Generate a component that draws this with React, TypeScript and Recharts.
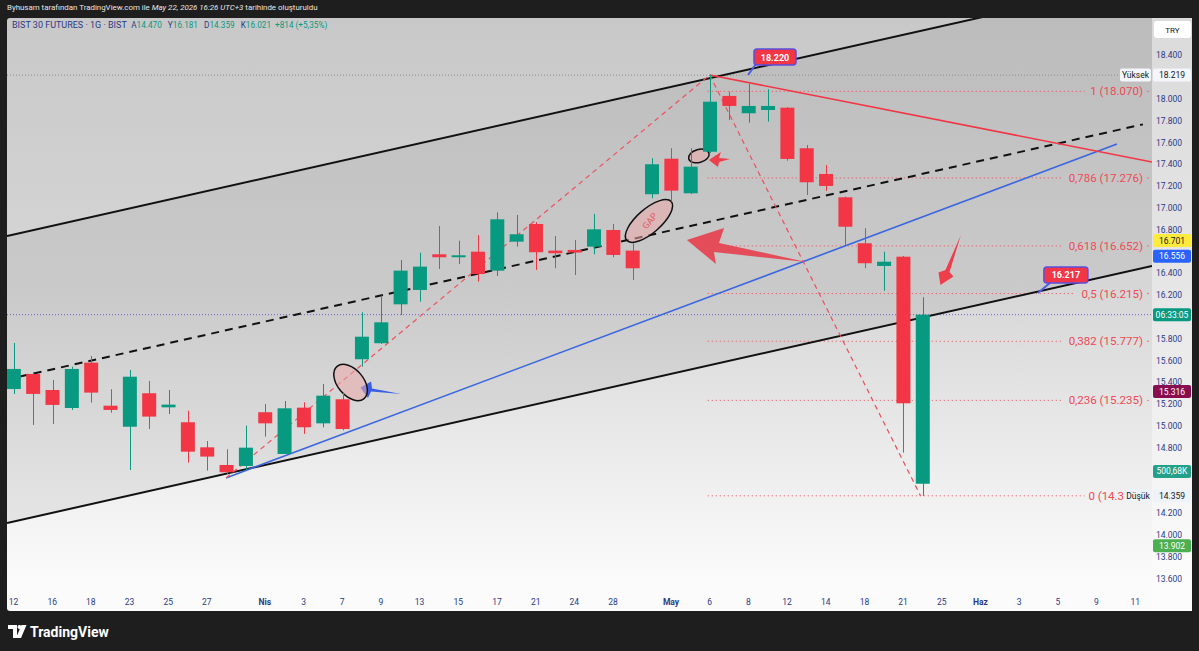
import { ComposedChart, Bar, XAxis, YAxis, ReferenceArea } from 'recharts';

// daily candles, 12 Mar -> 22 May (index = trading day)
const OPEN = [15.339, 15.477, 15.330, 15.165, 15.581, 15.186, 14.993, 15.300, 15.171, 15.034, 14.804, 14.642, 14.633, 15.126, 14.743, 15.168, 15.024, 15.245, 15.612, 15.759, 16.116, 16.248, 16.575, 16.548, 16.599, 16.425, 16.691, 16.853, 16.609, 16.615, 16.645, 16.798, 16.609, 17.126, 17.452, 17.135, 17.516, 18.028, 17.869, 17.899, 17.920, 17.548, 17.312, 17.098, 16.676, 16.468, 16.553, 14.470];
const HIGH = [15.761, 15.495, 15.422, 15.544, 15.642, 15.337, 15.514, 15.413, 15.330, 15.140, 14.862, 14.786, 15.003, 15.202, 15.229, 15.217, 15.385, 15.310, 16.043, 16.196, 16.523, 16.590, 16.835, 16.700, 16.752, 16.960, 16.936, 16.870, 16.743, 16.706, 16.945, 16.853, 16.676, 17.456, 17.548, 17.548, 18.220, 18.067, 18.138, 18.089, 17.925, 17.578, 17.394, 17.105, 16.814, 16.599, 16.560, 16.181];
const LOW = [15.294, 15.009, 15.018, 15.147, 15.214, 15.122, 14.596, 14.972, 15.110, 14.663, 14.590, 14.560, 14.596, 14.902, 14.743, 14.927, 14.988, 14.960, 15.544, 15.752, 16.018, 16.140, 16.440, 16.486, 16.324, 16.376, 16.645, 16.431, 16.447, 16.385, 16.575, 16.548, 16.339, 17.089, 17.058, 17.128, 17.505, 17.807, 17.783, 17.792, 17.434, 17.119, 17.156, 16.661, 16.447, 16.241, 14.755, 14.359];
const CLOSE = [15.523, 15.294, 15.193, 15.523, 15.306, 15.147, 15.452, 15.086, 15.196, 14.764, 14.719, 14.575, 14.801, 15.024, 15.162, 14.988, 15.278, 14.972, 15.819, 15.951, 16.425, 16.462, 16.548, 16.566, 16.394, 16.896, 16.759, 16.594, 16.585, 16.591, 16.804, 16.569, 16.447, 17.401, 17.159, 17.379, 17.975, 17.936, 17.936, 17.936, 17.450, 17.236, 17.202, 16.828, 16.493, 16.507, 15.208, 16.021];

const X_TICKS = [0, 2, 4, 6, 8, 10, 13, 15, 17, 19, 21, 23, 25, 27, 29, 31, 34, 36, 38, 40, 42, 44, 46, 48, 50, 52, 54, 56, 58];
const X_LABELS = ['12', '16', '18', '23', '25', '27', 'Nis', '3', '7', '9', '13', '15', '17', '21', '24', '28', 'May', '6', '8', '12', '14', '18', '21', '25', 'Haz', '3', '5', '9', '11'];
const MONTHS = ['Nis', 'May', 'Haz'];
const Y_TICKS = [13.6, 13.8, 14.0, 14.2, 14.8, 15.0, 15.2, 15.4, 15.6, 15.8, 16.2, 16.4, 16.8, 17.0, 17.2, 17.4, 17.6, 17.8, 18.0, 18.4];

// fib retracement 18.070 -> 14.359 (last label is hidden under the "Düşük" tag)
const FIB_NAMES = ['1', '0,786', '0,618', '0,5', '0,382', '0,236', '0'];
const FIB_PRICES = [18.070, 17.276, 16.652, 16.215, 15.777, 15.235, 14.359];
const FIB_TEXT = ['1 (18.070)', '0,786 (17.276)', '0,618 (16.652)', '0,5 (16.215)', '0,382 (15.777)', '0,236 (15.235)', '0 (14.3'];

// drawings, [index, price]
const CH_UPPER = [[-0.336, 16.743], [58.87, 19.101]];
const CH_LOWER = [[-0.336, 14.110], [58.87, 16.468]];
const CH_MID = [[0.336, 15.453], [58.4, 17.767]];
const BLUE_LINE = [[10.99, 14.523], [57.06, 17.587]];
const RED_DASH_UP = [[10.99, 14.523], [36.0, 18.22]];
const RED_DASH_DOWN = [[36.0, 18.22], [46.9, 14.36]];
const RED_LINE = [[36.0, 18.22], [58.87, 17.422]];
const BIG_ARROW = [[34.82, 16.706], [36.74, 16.817], [36.48, 16.679], [40.98, 16.505], [36.22, 16.596], [36.32, 16.486]];
const SMALL_ARROW = [[48.99, 16.752], [48.40, 16.413], [48.60, 16.372], [47.93, 16.294], [47.83, 16.408], [48.19, 16.431]];
const TINY_ARROW = [[35.96, 17.44], [36.58, 17.514], [36.48, 17.459], [37.05, 17.45], [36.48, 17.422], [36.43, 17.376]];
const BLUE_ARROW = [[17.94, 15.353], [18.49, 15.408], [18.54, 15.344], [20.04, 15.294], [18.49, 15.317], [18.33, 15.257]];

const X_MIN = -0.336, X_MAX = 58.87, Y_MIN = 13.495, Y_MAX = 18.743;
const GREEN = '#089981', RED = '#f23645', AXIS_TEXT = '#2b3a87';
const FONT = "Roboto, 'Liberation Sans', sans-serif";

const data = OPEN.map((o, i) => ({ i, o, h: HIGH[i], l: LOW[i], c: CLOSE[i] }));

function Candle(props: any) {
  const { x, y, width, height, payload } = props;
  const { o, h, l, c } = payload;
  const top = Math.min(y, y + height);
  const hh = Math.abs(height);
  const yOf = (v: number) => top + ((h - v) / (h - l || 1)) * hh;
  const col = c >= o ? GREEN : RED;
  const bt = yOf(Math.max(o, c));
  const bb = yOf(Math.min(o, c));
  const cx = Math.round(x + width / 2) + 0.5;
  return (
    <g>
      <line x1={cx} x2={cx} y1={top} y2={top + hh} stroke={col} strokeWidth={1} />
      <rect x={x} y={bt} width={width} height={Math.max(1.5, bb - bt)} fill={col} />
    </g>
  );
}

function mapper(p: any) {
  const x = p.x, y = Math.min(p.y, p.y + p.height), w = p.width, h = Math.abs(p.height);
  return {
    x, y, w, h,
    px: (i: number) => x + ((i - X_MIN) / (X_MAX - X_MIN)) * w,
    py: (v: number) => y + ((Y_MAX - v) / (Y_MAX - Y_MIN)) * h,
  };
}

function ChannelFill(props: any) {
  const m = mapper(props);
  const pts = [CH_UPPER[0], CH_UPPER[1], CH_LOWER[1], CH_LOWER[0]].map(([i, v]) => `${m.px(i)},${m.py(v)}`).join(' ');
  return (
    <g>
      <clipPath id="chfill"><rect x={m.x} y={m.y} width={m.w} height={m.h} /></clipPath>
      <polygon points={pts} fill="rgba(40,40,40,0.07)" clipPath="url(#chfill)" />
    </g>
  );
}

function Tag({ y, x, w, text, bg, fg }: any) {
  return (
    <g>
      <rect x={x} y={y - 6.5} width={w} height={13} rx={2} fill={bg} />
      <text x={x + w / 2} y={y + 3} textAnchor="middle" fontSize={8.5} fill={fg} fontFamily={FONT}>{text}</text>
    </g>
  );
}

function Overlay(props: any) {
  const m = mapper(props);
  const seg = (s: number[][], stroke: string, sw: number, dash?: string) => (
    <line x1={m.px(s[0][0])} y1={m.py(s[0][1])} x2={m.px(s[1][0])} y2={m.py(s[1][1])} stroke={stroke} strokeWidth={sw} strokeDasharray={dash} />
  );
  const poly = (s: number[][], fill: string) => (
    <polygon points={s.map(([i, v]) => `${m.px(i)},${m.py(v)}`).join(' ')} fill={fill} />
  );
  const right = m.x + m.w;
  const fibEnd = m.px(58.4);
  const axX = right + 1;
  const hiY = m.py(18.219);
  const loY = m.py(14.359);
  const c1x = m.px(37.98), c1y = m.py(18.22);
  const c2x = m.px(52.97), c2y = m.py(16.22);
  const gx = m.px(32.86), gy = m.py(16.881);
  const e1x = m.px(17.43), e1y = m.py(15.399);
  const e3x = m.px(35.44), e3y = m.py(17.477);
  return (
    <g fontFamily={FONT}>
      <clipPath id="plotclip"><rect x={m.x} y={m.y} width={m.w} height={m.h} /></clipPath>
      <g clipPath="url(#plotclip)">
        <line x1={m.x} x2={right} y1={hiY} y2={hiY} stroke="#8a8d96" strokeWidth={1} strokeDasharray="1 2" />
        <line x1={m.x} x2={right} y1={m.py(16.021)} y2={m.py(16.021)} stroke="#6a64c4" strokeWidth={1} strokeDasharray="1 2" />
        {FIB_PRICES.map((v, k) => {
          const full = `${FIB_NAMES[k]} (${v.toFixed(3)})`;
          const tx = fibEnd - full.length * 5.45;
          const last = k === FIB_PRICES.length - 1;
          return (
            <g key={k}>
              <line x1={m.px(35.9)} x2={tx - 4} y1={m.py(v)} y2={m.py(v)} stroke="#ee4a56" strokeWidth={1} strokeDasharray="1 3" />
              <text x={last ? tx : fibEnd} y={m.py(v) + 4} textAnchor={last ? 'start' : 'end'} fontSize={11.5} fill="#ee4a56">{FIB_TEXT[k]}</text>
              {!last && <circle cx={fibEnd + 5} cy={m.py(v)} r={0.7} fill="#ee4a56" />}
            </g>
          );
        })}
        {seg(CH_UPPER, '#111', 2)}
        {seg(CH_LOWER, '#111', 2)}
        {seg(CH_MID, '#111', 2, '8 6')}
        {seg(BLUE_LINE, '#3a66e0', 1.6)}
        {seg(RED_DASH_UP, '#f0505c', 1.2, '5 4')}
        {seg(RED_DASH_DOWN, '#e8505c', 1.2, '5 4')}
        {seg(RED_LINE, '#f23645', 1.6)}
        {poly(BIG_ARROW, 'rgba(232,62,78,0.9)')}
        {poly(SMALL_ARROW, 'rgba(240,54,69,0.95)')}
        {poly(TINY_ARROW, 'rgba(240,54,69,0.95)')}
        {poly(BLUE_ARROW, '#3a5fe6')}
        <ellipse cx={e1x} cy={e1y} rx={21} ry={13} transform={`rotate(50 ${e1x} ${e1y})`} fill="rgba(235,170,170,0.55)" stroke="#111" strokeWidth={1.5} />
        <ellipse cx={gx} cy={gy} rx={29.5} ry={12} transform={`rotate(-41 ${gx} ${gy})`} fill="rgba(235,170,170,0.55)" stroke="#111" strokeWidth={1.5} />
        <text x={gx + 1} y={gy + 3} textAnchor="middle" fontSize={9} fill="#e0606b" transform={`rotate(-50 ${gx + 1} ${gy})`}>GAP</text>
        <ellipse cx={e3x} cy={e3y} rx={10.5} ry={6.5} transform={`rotate(-15 ${e3x} ${e3y})`} fill="rgba(235,170,170,0.55)" stroke="#111" strokeWidth={1.5} />
        <line x1={c1x} y1={c1y} x2={c1x + 8} y2={c1y - 11} stroke="#4b5ee0" strokeWidth={2} />
        <rect x={c1x + 6} y={c1y - 26} width={42} height={16} rx={3} fill="#f23645" stroke="#5a4fe0" strokeWidth={1.5} />
        <text x={c1x + 27} y={c1y - 14.5} textAnchor="middle" fontSize={9} fontWeight={700} fill="#fff">18.220</text>
        <line x1={c2x} y1={c2y} x2={c2x + 12} y2={c2y - 10} stroke="#4b5ee0" strokeWidth={2} />
        <rect x={c2x + 6} y={c2y - 26} width={44} height={16} rx={3} fill="#f23645" stroke="#5a4fe0" strokeWidth={1.5} />
        <text x={c2x + 28} y={c2y - 14.5} textAnchor="middle" fontSize={9} fontWeight={700} fill="#fff">16.217</text>
      </g>
      <rect x={axX + 1} y={m.y + 3} width={37} height={17} rx={3} fill="#fff" />
      <text x={axX + 19.5} y={m.y + 14.5} textAnchor="middle" fontSize={8} fill="#131722">TRY</text>
      <Tag x={right - 32} y={hiY} w={31} text="Yüksek" bg="#f4f6fb" fg="#131722" />
      <Tag x={axX} y={hiY} w={38} text="18.219" bg="#f4f6fb" fg="#131722" />
      <Tag x={axX} y={m.py(16.701)} w={38} text="16.701" bg="#ffeb3b" fg="#131722" />
      <Tag x={axX} y={m.py(16.556)} w={38} text="16.556" bg="#2962ff" fg="#fff" />
      <Tag x={axX} y={m.py(16.021)} w={38} text="06:33:05" bg="#089981" fg="#fff" />
      <Tag x={axX} y={m.py(15.316)} w={38} text="15.316" bg="#880e4f" fg="#fff" />
      <Tag x={axX} y={m.py(14.583)} w={38} text="500,68K" bg="#22a08a" fg="#fff" />
      <Tag x={right - 28} y={loY} w={28} text="Düşük" bg="#eef2f9" fg="#131722" />
      <Tag x={axX} y={loY} w={38} text="14.359" bg="#eef2f9" fg="#131722" />
      <Tag x={axX} y={m.py(13.902)} w={38} text="13.902" bg="#4caf50" fg="#fff" />
    </g>
  );
}

function XTick({ x, y, payload }: any) {
  const label = X_LABELS[X_TICKS.indexOf(payload.value)] ?? '';
  return (
    <text x={x} y={y + 15} textAnchor="middle" fontSize={8.5} fontFamily={FONT} fill={AXIS_TEXT} fontWeight={MONTHS.includes(label) ? 700 : 400}>
      {label}
    </text>
  );
}

function YTick({ x, y, payload }: any) {
  return (
    <text x={x + 4} y={y + 3} textAnchor="start" fontSize={8.5} fontFamily={FONT} fill={AXIS_TEXT}>
      {Number(payload.value).toFixed(3)}
    </text>
  );
}

export default function App() {
  return (
    <div style={{ position: 'fixed', left: 0, top: 0, width: 1199, height: 651, background: '#1e1e1e', fontFamily: FONT, overflow: 'hidden' }}>
      <div style={{ position: 'absolute', left: 7, top: 3, fontSize: 7.9, color: '#e6e6e6', whiteSpace: 'nowrap' }}>
        Byhusam tarafından TradingView.com ile <i>May 22, 2026 16:26 UTC+3</i> tarihinde oluşturuldu
      </div>
      <div style={{ position: 'absolute', left: 7, top: 18, width: 1185, height: 593, borderRadius: 3, overflow: 'hidden', background: 'linear-gradient(#c8c8c8, #d6d6d6 45%, #fbfbfb 95%)' }} />
      <div style={{ position: 'absolute', left: 1152, top: 18, width: 40, height: 593, background: 'linear-gradient(#dadada, #e6e6e6 45%, #fcfcfc 95%)' }} />
      <div style={{ position: 'absolute', left: 7, top: 18 }}>
        <ComposedChart width={1185} height={593} data={data} margin={{ top: 0, right: 0, bottom: 0, left: 0 }}>
          <XAxis dataKey="i" type="number" domain={[X_MIN, X_MAX]} ticks={X_TICKS} allowDataOverflow height={21}
            tick={<XTick />} tickLine={false} axisLine={false} tickSize={0} tickMargin={0} interval={0} />
          <YAxis orientation="right" type="number" domain={[Y_MIN, Y_MAX]} ticks={Y_TICKS} allowDataOverflow width={40}
            tick={<YTick />} tickLine={false} axisLine={false} tickSize={0} tickMargin={0} interval={0} />
          <ReferenceArea x1={X_MIN} x2={X_MAX} y1={Y_MIN} y2={Y_MAX} shape={(p: any) => <ChannelFill {...p} />} />
          <Bar dataKey={(d: any) => [d.l, d.h]} shape={(p: any) => <Candle {...p} />} barSize={14} isAnimationActive={false} />
          <ReferenceArea x1={X_MIN} x2={X_MAX} y1={Y_MIN} y2={Y_MAX} shape={(p: any) => <Overlay {...p} />} />
        </ComposedChart>
      </div>
      <div style={{ position: 'absolute', left: 12, top: 20, fontSize: 9, whiteSpace: 'nowrap', color: AXIS_TEXT }}>
        BIST 30 FUTURES · 1G · BIST&nbsp;&nbsp;
        <span style={{ fontSize: 8.2 }}>
          A<span style={{ color: GREEN }}>14.470</span>&nbsp;&nbsp;
          Y<span style={{ color: GREEN }}>16.181</span>&nbsp;&nbsp;
          D<span style={{ color: GREEN }}>14.359</span>&nbsp;&nbsp;
          K<span style={{ color: GREEN }}>16.021</span>&nbsp;&nbsp;
          <span style={{ color: GREEN }}>+814 (+5,35%)</span>
        </span>
      </div>
      <svg style={{ position: 'absolute', left: 0, top: 615 }} width={130} height={30}>
        <path d="M8 10 h9 v13 h-4 v-9 h-5 z" fill="#fff" />
        <circle cx={19.5} cy={12} r={2} fill="#fff" />
        <path d="M21.5 10 h5 l-5.5 13 h-5 z" fill="#fff" />
        <text x={30} y={22} fontSize={14} fontWeight={700} fill="#fff" fontFamily={FONT}>TradingView</text>
      </svg>
    </div>
  );
}
